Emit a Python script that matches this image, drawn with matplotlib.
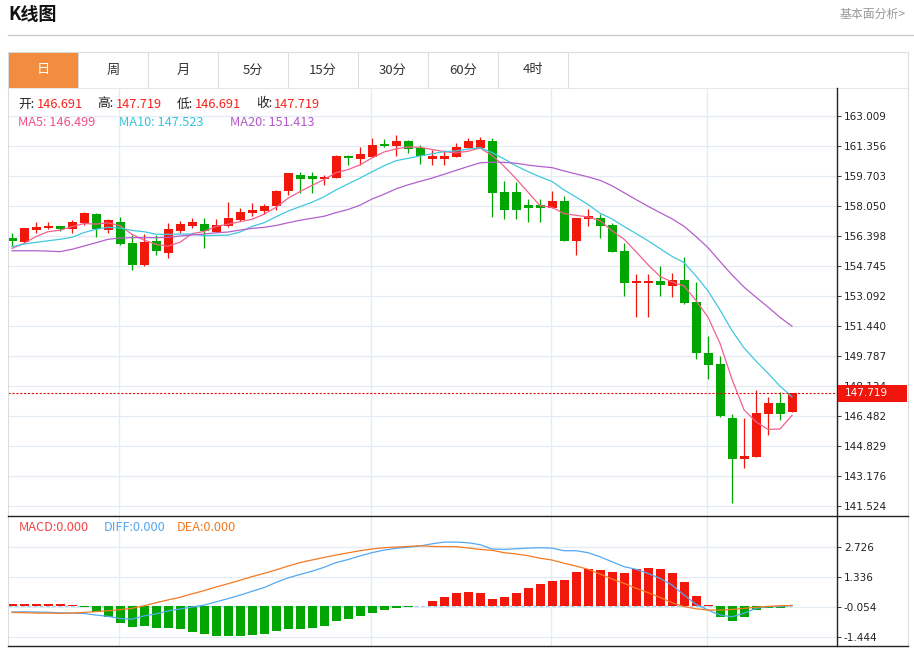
import matplotlib.pyplot as plt
from matplotlib.lines import Line2D
from matplotlib.patches import Rectangle

plt.rcParams["font.family"] = ["Noto Sans CJK SC", "DejaVu Sans"]

W, H = 914, 649

# daily candles (oldest first)
opens = [156.26, 156.07, 156.71, 156.82, 156.93, 156.79, 157.08, 157.59, 156.71, 157.15,
         156.01, 154.77, 156.12, 155.46, 156.66, 156.93, 157.04, 156.62, 156.93, 157.26,
         157.65, 157.78, 158.04, 158.85, 159.73, 159.71, 159.51, 159.59, 160.79, 160.64,
         160.75, 161.45, 161.34, 161.63, 161.21, 160.62, 160.62, 160.75, 161.23, 161.23,
         161.63, 158.81, 158.81, 158.07, 158.07, 157.94, 158.31, 156.11, 157.30, 157.37,
         157.01, 155.54, 153.78, 153.78, 153.89, 153.61, 153.98, 152.75, 149.92, 149.35,
         146.34, 144.08, 144.23, 146.59, 147.17, 146.691]
highs = [156.53, 156.85, 157.17, 157.14, 156.96, 157.26, 157.70, 157.67, 157.34, 157.45,
         156.44, 156.48, 156.42, 157.08, 157.21, 157.39, 157.36, 157.30, 158.27, 157.94,
         158.22, 158.15, 158.92, 159.86, 159.92, 159.92, 159.74, 160.86, 160.86, 161.27,
         161.76, 161.71, 161.95, 161.67, 161.40, 161.12, 161.12, 161.49, 161.76, 161.82,
         161.76, 159.43, 159.37, 158.42, 158.42, 158.86, 158.58, 157.39, 157.85, 157.61,
         157.11, 155.98, 154.29, 154.29, 154.73, 154.33, 155.21, 153.87, 150.87, 149.77,
         146.56, 146.34, 147.90, 147.53, 147.79, 147.719]
lows = [155.83, 156.02, 156.53, 156.75, 156.67, 156.56, 156.97, 156.34, 156.56, 155.88,
        154.51, 154.74, 155.34, 155.15, 156.53, 156.81, 155.72, 156.58, 156.89, 157.23,
        157.50, 157.59, 157.81, 158.66, 158.77, 158.77, 159.17, 159.59, 160.27, 160.27,
        160.75, 161.30, 160.79, 160.94, 160.33, 160.28, 160.28, 160.75, 161.23, 161.23,
        157.41, 157.33, 157.33, 157.15, 157.15, 157.94, 156.09, 155.35, 156.93, 156.29,
        155.52, 153.09, 151.94, 151.94, 153.09, 153.00, 152.64, 149.62, 148.52, 146.43,
        141.69, 143.62, 144.23, 145.42, 146.25, 146.691]
closes = [156.12, 156.81, 156.88, 156.93, 156.75, 157.15, 157.63, 156.75, 157.26, 155.96,
          154.77, 156.07, 155.56, 156.75, 157.03, 157.14, 156.67, 156.97, 157.36, 157.69,
          157.83, 158.05, 158.88, 159.84, 159.54, 159.54, 159.65, 160.79, 160.66, 160.88,
          161.40, 161.34, 161.63, 161.18, 160.79, 160.79, 160.79, 161.27, 161.63, 161.65,
          158.77, 157.82, 157.82, 157.93, 157.93, 158.31, 156.09, 157.36, 157.47, 156.93,
          155.52, 153.78, 153.89, 153.89, 153.70, 153.98, 152.68, 149.92, 149.28, 146.48,
          144.10, 144.26, 146.65, 147.17, 146.59, 147.719]

ma5 = [155.70, 155.98, 156.35, 156.62, 156.70, 156.90, 157.07, 157.04, 157.11, 156.95,
       156.47, 156.16, 155.92, 155.82, 156.04, 156.51, 156.63, 156.91, 157.03, 157.17,
       157.30, 157.58, 157.96, 158.46, 158.83, 159.17, 159.49, 159.87, 160.04, 160.30,
       160.68, 161.01, 161.18, 161.29, 161.27, 161.15, 161.03, 160.96, 161.05, 161.23,
       160.82, 160.23, 159.54, 158.80, 158.05, 157.96, 157.62, 157.52, 157.43, 157.23,
       156.67, 156.21, 155.52, 154.80, 154.16, 153.85, 153.63, 152.83, 151.91, 150.47,
       148.49, 146.81, 146.15, 145.73, 145.75, 146.499]
ma10 = [155.79, 155.94, 156.03, 156.12, 156.20, 156.31, 156.57, 156.75, 156.86, 156.82,
        156.69, 156.62, 156.48, 156.47, 156.49, 156.49, 156.40, 156.42, 156.43, 156.60,
        156.91, 157.11, 157.44, 157.75, 158.00, 158.24, 158.54, 158.92, 159.25, 159.57,
        159.92, 160.25, 160.53, 160.66, 160.79, 160.91, 161.03, 161.07, 161.17, 161.25,
        160.98, 160.63, 160.25, 159.93, 159.64, 159.39, 158.92, 158.53, 158.12, 157.64,
        157.32, 156.91, 156.52, 156.12, 155.69, 155.26, 154.92, 154.18, 153.36, 152.31,
        151.17, 150.22, 149.49, 148.82, 148.11, 147.523]
ma20 = [155.57, 155.57, 155.57, 155.55, 155.52, 155.65, 155.83, 156.01, 156.20, 156.27,
        156.29, 156.29, 156.29, 156.31, 156.38, 156.44, 156.49, 156.56, 156.60, 156.71,
        156.80, 156.86, 156.96, 157.11, 157.25, 157.36, 157.47, 157.67, 157.84, 158.08,
        158.42, 158.68, 158.98, 159.20, 159.39, 159.57, 159.78, 160.00, 160.21, 160.41,
        160.45, 160.44, 160.39, 160.29, 160.21, 160.15, 159.97, 159.80, 159.64, 159.45,
        159.15, 158.77, 158.39, 158.02, 157.67, 157.33, 156.92, 156.35, 155.74, 154.98,
        154.24, 153.57, 153.01, 152.47, 151.90, 151.413]

macd_hist = [0.05, 0.09, 0.09, 0.08, 0.05, 0.01, -0.09, -0.32, -0.51, -0.82,
             -1.00, -0.94, -1.03, -1.02, -1.08, -1.22, -1.34, -1.39, -1.39, -1.39,
             -1.37, -1.33, -1.17, -1.11, -1.11, -1.05, -0.93, -0.71, -0.63, -0.48,
             -0.34, -0.22, -0.12, -0.08, -0.02, 0.23, 0.40, 0.60, 0.65, 0.57,
             0.31, 0.39, 0.59, 0.82, 1.00, 1.16, 1.20, 1.54, 1.67, 1.65,
             1.56, 1.53, 1.70, 1.76, 1.71, 1.53, 1.07, 0.45, 0.03, -0.51,
             -0.73, -0.54, -0.20, -0.12, -0.12, 0.00]
diff = [-0.30, -0.29, -0.30, -0.31, -0.34, -0.35, -0.37, -0.44, -0.50, -0.60,
        -0.63, -0.48, -0.39, -0.25, -0.16, -0.07, 0.02, 0.17, 0.32, 0.48,
        0.66, 0.83, 1.07, 1.28, 1.44, 1.59, 1.77, 1.99, 2.13, 2.30,
        2.45, 2.57, 2.65, 2.70, 2.76, 2.86, 2.94, 2.94, 2.91, 2.82,
        2.62, 2.60, 2.63, 2.66, 2.68, 2.66, 2.54, 2.54, 2.45, 2.26,
        2.03, 1.80, 1.68, 1.49, 1.26, 0.95, 0.49, 0.06, -0.21, -0.44,
        -0.52, -0.36, -0.13, -0.05, -0.05, 0.01]
dea = [-0.32, -0.33, -0.35, -0.35, -0.36, -0.35, -0.32, -0.28, -0.24, -0.19,
       -0.13, -0.01, 0.13, 0.26, 0.38, 0.54, 0.69, 0.86, 1.01, 1.17,
       1.34, 1.49, 1.65, 1.83, 1.99, 2.11, 2.23, 2.34, 2.44, 2.54,
       2.62, 2.68, 2.71, 2.74, 2.77, 2.74, 2.73, 2.73, 2.67, 2.60,
       2.56, 2.45, 2.39, 2.31, 2.19, 2.11, 1.96, 1.83, 1.68, 1.46,
       1.23, 1.03, 0.80, 0.60, 0.38, 0.13, -0.05, -0.15, -0.21, -0.21,
       -0.18, -0.13, -0.08, -0.04, -0.01, 0.00]

# values printed in the MACD header (the page shows zeros)
macd_label_values = [0.0, 0.0, 0.0]

price_ticks = [163.009, 161.356, 159.703, 158.050, 156.398, 154.745, 153.092,
               151.440, 149.787, 148.134, 146.482, 144.829, 143.176, 141.524]
macd_ticks = [2.726, 1.336, -0.054, -1.444]
tabs = ["日", "周", "月", "5分", "15分", "30分", "60分", "4时"]
month_lines = [9, 30, 45, 58]

RED = "#f2170b"
GREEN = "#02a602"
GRID = "#e4ebf2"
BORDER = "#dcdcdc"
DARK = "#222222"


def fx(x):
    return x / W


def fy(y):
    return 1 - y / H


def fig_line(fig, xs, ys, color, lw=0.75, z=3):
    fig.add_artist(Line2D([fx(v) for v in xs], [fy(v) for v in ys],
                          transform=fig.transFigure, color=color, lw=lw, zorder=z))


fig = plt.figure(figsize=(W / 100, H / 100), dpi=100)
fig.patch.set_facecolor("white")

# header
fig.text(fx(8), fy(15), "K线图", fontsize=13, fontweight="bold", color="#111111",
         ha="left", va="center")
fig.text(fx(906), fy(14), "基本面分析>", fontsize=8.6, color="#9a9a9a", ha="right", va="center")
fig_line(fig, [8, 914], [35, 35], "#cccccc", lw=1.0)

# tab bar
fig.add_artist(Rectangle((fx(8), fy(88)), 70 / W, 36 / H, transform=fig.transFigure,
                         facecolor="#f28c3e", edgecolor="none", zorder=2))
fig_line(fig, [8, 908], [52, 52], BORDER)
fig_line(fig, [8, 908], [88, 88], "#e8e8e8")
for k, name in enumerate(tabs):
    cx = 43 + 70 * k
    fig.text(fx(cx), fy(70), name, fontsize=9.5, ha="center", va="center",
             color="white" if k == 0 else "#333333", zorder=4)
    fig_line(fig, [78 + 70 * k] * 2, [52, 88], BORDER)
fig_line(fig, [8, 8], [52, 646], BORDER)
fig_line(fig, [908, 908], [52, 646], BORDER)

# price panel
xmin, xmax = -1 / 3, (837 - 12) / 12
ax = fig.add_axes([fx(8), fy(516), (837 - 8) / W, (516 - 88) / H])
ax.set_xlim(xmin, xmax)
ax.set_ylim(140.958, 164.535)
for s in ax.spines.values():
    s.set_visible(False)
ax.set_xticks([])
ax.yaxis.tick_right()
ax.set_yticks(price_ticks)
ax.set_yticklabels([f"{v:.3f}" for v in price_ticks], family="DejaVu Sans")
ax.tick_params(axis="y", length=3, width=0.7, color="#333333", pad=2,
               labelsize=7.5, labelcolor="#222222")
for v in price_ticks:
    ax.axhline(v, color=GRID, lw=0.9, zorder=0)
for m in month_lines:
    ax.axvline(m - 0.08, color=GRID, lw=0.9, zorder=0)

for i in range(len(closes)):
    up = closes[i] >= opens[i]
    c = RED if up else GREEN
    ax.vlines(i, lows[i], highs[i], color=c, lw=0.9, zorder=3)
    lo, hi = min(opens[i], closes[i]), max(opens[i], closes[i])
    ax.bar(i, max(hi - lo, 0.06), bottom=lo, width=0.75, color=c, zorder=4, lw=0)

idx = list(range(len(closes)))
ax.plot(idx, ma5, color="#f2628f", lw=0.9, zorder=5)
ax.plot(idx, ma10, color="#40c8e0", lw=0.9, zorder=5)
ax.plot(idx, ma20, color="#b45fcc", lw=0.9, zorder=5)
ax.axhline(closes[-1], color="#e01010", lw=0.8, ls=(0, (2, 1.5)), zorder=6)

# OHLC / MA legend
row1 = [(18, "开:", "#222222"), (37, f"{opens[-1]:.3f}", "#f5231b"),
        (97, "高:", "#222222"), (116, f"{highs[-1]:.3f}", "#f5231b"),
        (177, "低:", "#222222"), (195, f"{lows[-1]:.3f}", "#f5231b"),
        (256, "收:", "#222222"), (274, f"{closes[-1]:.3f}", "#f5231b")]
for x, t, c in row1:
    fig.text(fx(x), fy(104), t, fontsize=9.2, color=c, ha="left", va="center", zorder=6)
row2 = [(18, f"MA5: {ma5[-1]:.3f}", "#f0508a"), (119, f"MA10: {ma10[-1]:.3f}", "#33c4de"),
        (230, f"MA20: {ma20[-1]:.3f}", "#b458ca")]
for x, t, c in row2:
    fig.text(fx(x), fy(122.5), t, fontsize=9.2, color=c, ha="left", va="center", zorder=6)

# last price tag
fig.add_artist(Rectangle((fx(838), fy(402)), 69 / W, 17 / H, transform=fig.transFigure,
                         facecolor="#f0160b", edgecolor="none", zorder=8))
fig.text(fx(845), fy(393.5), f"{closes[-1]:.3f}", fontsize=7.5, color="white",
         family="DejaVu Sans", ha="left", va="center", zorder=9)

# MACD panel
bx = fig.add_axes([fx(8), fy(646), (837 - 8) / W, (646 - 516) / H])
bx.set_xlim(xmin, xmax)
bx.set_ylim(-1.875, 4.149)
for s in bx.spines.values():
    s.set_visible(False)
bx.set_xticks([])
bx.yaxis.tick_right()
bx.set_yticks(macd_ticks)
bx.set_yticklabels([f"{v:.3f}" for v in macd_ticks], family="DejaVu Sans")
bx.tick_params(axis="y", length=3, width=0.7, color="#333333", pad=2,
               labelsize=7.5, labelcolor="#222222")
for v in macd_ticks:
    bx.axhline(v, color=GRID, lw=0.9, zorder=0)
for m in month_lines:
    bx.axvline(m - 0.08, color=GRID, lw=0.9, zorder=0)
bx.bar(idx, macd_hist, width=0.75, lw=0, zorder=3,
       color=[RED if v >= 0 else GREEN for v in macd_hist])
bx.plot([xmin, idx[-1]], [0, 0], color="#9fd4ee", lw=0.9, ls=(0, (3, 2)), zorder=2)
bx.plot(idx, diff, color="#55a8f2", lw=0.9, zorder=4)
bx.plot(idx, dea, color="#f47a22", lw=0.9, zorder=4)

macd_row = [(19, "MACD", "#f24545"), (104, "DIFF", "#55a8f2"), (177, "DEA", "#f47a22")]
for (x, name, c), v in zip(macd_row, macd_label_values):
    fig.text(fx(x), fy(527.7), f"{name}:{v:.3f}", fontsize=9.2, color=c,
             ha="left", va="center", zorder=6)

# frame lines
fig_line(fig, [8, 908], [516, 516], DARK, lw=1.0, z=7)
fig_line(fig, [8, 908], [646, 646], DARK, lw=1.0, z=7)
fig_line(fig, [837, 837], [88, 646], DARK, lw=1.0, z=7)

fig.savefig("out.png", dpi=100)
